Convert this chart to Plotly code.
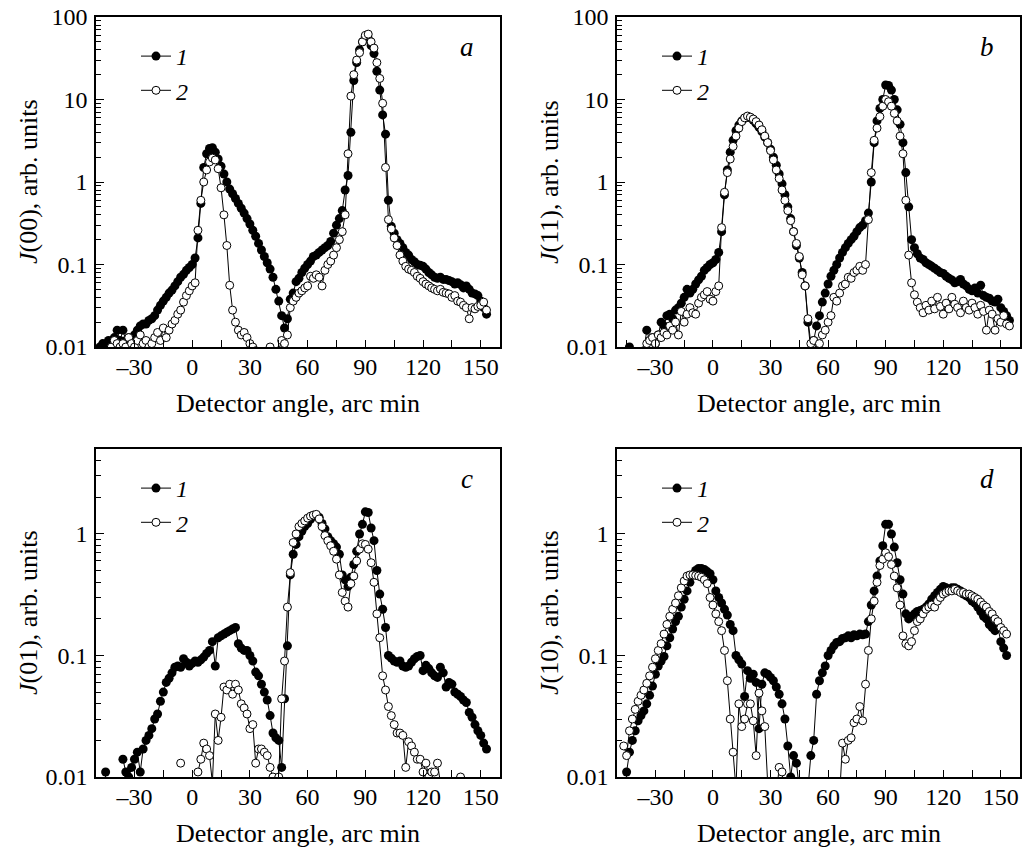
import plotly.graph_objects as go

# detector angle grid, arc min
angle = [-48, -46.5, -45, -43.5, -42, -40.5, -39, -37.5, -36, -34.5,
         -33, -31.5, -30, -28.5, -27, -25.5, -24, -22.5, -21, -19.5,
         -18, -16.5, -15, -13.5, -12, -10.5, -9, -7.5, -6, -4.5,
         -3, -1.5, 0, 1.5, 3, 4.5, 6, 7.5, 9, 10.5,
         12, 13.5, 15, 16.5, 18, 19.5, 21, 22.5, 24, 25.5,
         27, 28.5, 30, 31.5, 33, 34.5, 36, 37.5, 39, 40.5,
         42, 43.5, 45, 46.5, 48, 49.5, 51, 52.5, 54, 55.5,
         57, 58.5, 60, 61.5, 63, 64.5, 66, 67.5, 69, 70.5,
         72, 73.5, 75, 76.5, 78, 79.5, 81, 82.5, 84, 85.5,
         87, 88.5, 90, 91.5, 93, 94.5, 96, 97.5, 99, 100.5,
         102, 103.5, 105, 106.5, 108, 109.5, 111, 112.5, 114, 115.5,
         117, 118.5, 120, 121.5, 123, 124.5, 126, 127.5, 129, 130.5,
         132, 133.5, 135, 136.5, 138, 139.5, 141, 142.5, 144, 145.5,
         147, 148.5, 150, 151.5, 153, 154.5]

# a: J(00)
a1 = [0.010, 0.011, 0.010, 0.012, 0.011, 0.013, 0.016, 0.012, 0.016, 0.012,
      0.013, 0.012, 0.014, 0.016, 0.018, 0.019, 0.019, 0.021, 0.022, 0.024,
      0.028, 0.032, 0.036, 0.040, 0.045, 0.049, 0.055, 0.062, 0.070, 0.076,
      0.085, 0.092, 0.10, 0.12, 0.21, 0.55, 1.5, 2.2, 2.55, 2.6,
      2.3, 1.9, 1.55, 1.25, 1.0, 0.82, 0.72, 0.63, 0.55, 0.48,
      0.42, 0.36, 0.31, 0.26, 0.22, 0.18, 0.15, 0.125, 0.105, 0.088,
      0.07, 0.05, 0.036, 0.024, 0.017, 0.022, 0.038, 0.045, 0.062, 0.068,
      0.08, 0.09, 0.1, 0.11, 0.125, 0.13, 0.14, 0.15, 0.16, 0.17,
      0.19, 0.24, 0.3, 0.36, 0.45, 0.8, 1.2, 4.0, 17, 28,
      40, 50, 58, 55, 45, 36, 22, 13, 6.5, 3.8,
      0.6, 0.29, 0.24, 0.2, 0.18, 0.16, 0.14, 0.13, 0.115, 0.108,
      0.1, 0.098, 0.095, 0.088, 0.08, 0.075, 0.07, 0.068, 0.07, 0.066,
      0.066, 0.064, 0.062, 0.058, 0.06, 0.057, 0.052, 0.055, 0.05, 0.045,
      0.044, 0.042, 0.036, 0.03, 0.025, None]
a2 = [None, None, None, None, 0.010, 0.012, 0.011, 0.010, 0.011, 0.010,
      0.013, 0.011, 0.010, 0.012, 0.014, 0.011, 0.012, 0.010, 0.011, 0.013,
      0.015, 0.012, 0.017, 0.013, 0.016, 0.019, 0.021, 0.025, 0.028, 0.035,
      0.042, 0.048, 0.055, 0.06, 0.26, 0.6, 1.0, 1.4, 1.75, 1.95,
      1.85, 1.45, 0.85, 0.4, 0.17, 0.056, 0.028, 0.02, 0.016, 0.014,
      0.015, 0.013, 0.011, 0.01, 0.009, 0.008, 0.007, 0.007, 0.008, 0.01,
      0.008, 0.007, 0.009, 0.012, 0.011, 0.014, 0.03, 0.036, 0.04, 0.045,
      0.048, 0.052, 0.055, 0.072, 0.068, 0.075, 0.07, 0.055, 0.085, 0.1,
      0.11, 0.13, 0.16, 0.2, 0.25, 0.4, 2.2, 11, 20, 30,
      37, 50, 60, 62, 50, 42, 28, 18, 9, 1.5,
      0.35, 0.27, 0.21, 0.17, 0.13, 0.11, 0.095, 0.088, 0.085, 0.08,
      0.072, 0.068, 0.062, 0.058, 0.055, 0.052, 0.05, 0.048, 0.05, 0.046,
      0.045, 0.044, 0.04, 0.042, 0.036, 0.035, 0.032, 0.03, 0.022, 0.03,
      0.029, 0.031, 0.032, 0.035, 0.028, None]

# b: J(11)
b1 = [None, None, None, 0.010, None, None, None, None, 0.009, 0.016,
      0.012, 0.013, 0.011, 0.014, 0.02, 0.018, 0.024, 0.025, 0.022, 0.028,
      0.03, 0.034, 0.04, 0.05, 0.045, 0.05, 0.058, 0.065, 0.072, 0.085,
      0.092, 0.1, 0.105, 0.115, 0.14, 0.25, 0.7, 1.4, 2.3, 3.2,
      4.2, 4.9, 5.5, 5.9, 6.2, 6.0, 5.6, 5.1, 4.6, 4.1,
      3.5, 3.0, 2.5, 2.0, 1.6, 1.25, 0.95, 0.7, 0.5, 0.36,
      0.25, 0.17, 0.12, 0.08, 0.055, 0.02, 0.009, 0.012, 0.018, 0.024,
      0.035, 0.045, 0.058, 0.072, 0.085, 0.1, 0.12, 0.14, 0.16, 0.18,
      0.2, 0.22, 0.25, 0.28, 0.3, 0.34, 0.42, 1.0, 3.0, 5.5,
      7.8, 10, 15, 14.8, 13, 10, 7.5, 5.0, 3.0, 1.3,
      0.5, 0.2, 0.16, 0.135, 0.12, 0.115, 0.105, 0.1, 0.095, 0.09,
      0.085, 0.08, 0.078, 0.072, 0.068, 0.065, 0.06, 0.062, 0.066, 0.058,
      0.055, 0.05, 0.048, 0.052, 0.045, 0.056, 0.042, 0.04, 0.039, 0.036,
      0.035, 0.038, 0.03, 0.027, 0.024, 0.021]
b2 = [None, None, None, None, None, None, None, None, None, 0.011,
      0.012, 0.013, 0.011, 0.014, 0.013, 0.015, 0.014, 0.018, 0.016, 0.02,
      0.014, 0.027, 0.02, 0.025, 0.03, 0.026, 0.025, 0.034, 0.04, 0.043,
      0.047, 0.038, 0.036, 0.047, 0.055, 0.28, 0.75, 1.3, 1.9, 2.7,
      3.6, 4.5, 5.4, 6.0, 6.3, 6.1, 5.8, 5.4, 4.9, 4.3,
      3.6, 3.0, 2.4, 1.85, 1.4, 1.1, 0.8, 0.6, 0.45, 0.34,
      0.25, 0.18, 0.125, 0.075, 0.055, 0.022, 0.011, 0.012, 0.009, 0.011,
      0.014, 0.016, 0.02, 0.024, 0.04, 0.036, 0.045, 0.055, 0.058, 0.07,
      0.068, 0.08, 0.085, 0.095, 0.085, 0.1, 0.35, 1.3, 3.2, 4.5,
      6.2, 8.3, 10, 9.4, 8.3, 6.8, 5.5, 3.6, 2.2, 0.6,
      0.13, 0.06, 0.043, 0.035, 0.03, 0.026, 0.032, 0.028, 0.036, 0.029,
      0.04, 0.031, 0.025, 0.034, 0.029, 0.04, 0.033, 0.03, 0.026, 0.036,
      0.03, 0.028, 0.034, 0.03, 0.025, 0.032, 0.027, 0.016, 0.028, 0.025,
      0.016, 0.022, 0.02, 0.024, 0.019, 0.018]

# c: J(01)
c1 = [None, None, 0.011, None, None, None, None, None, 0.014, 0.011,
      0.010, 0.012, 0.014, 0.016, 0.011, 0.017, 0.02, 0.022, 0.025, 0.03,
      0.033, 0.042, 0.05, 0.06, 0.065, 0.072, 0.08, 0.082, 0.08, 0.094,
      0.088, 0.082, 0.086, 0.09, 0.088, 0.092, 0.097, 0.104, 0.11, 0.13,
      0.082, 0.14, 0.145, 0.15, 0.155, 0.16, 0.165, 0.17, 0.125, 0.115,
      0.11, 0.11, 0.1, 0.09, 0.073, 0.068, 0.058, 0.05, 0.043, 0.032,
      0.023, 0.021, 0.02, 0.012, 0.044, 0.12, 0.46, 0.68, 0.82, 0.95,
      1.05, 1.15, 1.22, 1.32, 1.4, 1.42, 1.37, 1.22, 1.1, 0.95,
      0.88, 0.83, 0.78, 0.68, 0.46, 0.42, 0.37, 0.44, 0.56, 0.72,
      1.0, 1.2, 1.52, 1.5, 1.12, 0.88, 0.5, 0.32, 0.24, 0.17,
      0.1, 0.095, 0.09, 0.088, 0.09, 0.082, 0.08, 0.082, 0.088, 0.094,
      0.098, 0.1, 0.075, 0.083, 0.078, 0.072, 0.068, 0.066, 0.08, 0.072,
      0.055, 0.06, 0.058, 0.05, 0.048, 0.046, 0.043, 0.041, 0.034, 0.031,
      0.027, 0.024, 0.022, 0.019, 0.017, None]
c2 = [None, None, None, None, None, None, None, None, None, None,
      None, None, None, None, None, None, None, None, None, None,
      None, None, None, None, None, None, None, None, 0.013, None,
      None, None, None, None, 0.011, 0.014, 0.019, 0.017, 0.015, 0.009,
      0.033, 0.02, 0.031, 0.055, 0.052, 0.058, 0.048, 0.058, 0.052, 0.04,
      0.037, 0.033, 0.025, 0.027, 0.013, 0.017, 0.017, 0.016, 0.015, 0.012,
      0.01, 0.009, 0.01, 0.044, 0.09, 0.25, 0.48, 0.85, 1.0, 1.15,
      1.22, 1.28, 1.35, 1.4, 1.43, 1.45, 1.33, 1.15, 0.97, 0.88,
      0.8, 0.72, 0.62, 0.46, 0.33, 0.28, 0.25, 0.39, 0.45, 0.6,
      0.75, 0.83, 0.82, 0.75, 0.58, 0.4, 0.22, 0.14, 0.068, 0.052,
      0.038, 0.032, 0.027, 0.023, 0.023, 0.022, 0.012, 0.0195, 0.018, 0.016,
      0.014, 0.014, 0.011, 0.013, 0.01, 0.011, 0.011, 0.013, 0.009, None,
      None, None, None, None, None, 0.01, None, None, None, None,
      None, None, None, None, None, None]

# d: J(10)
d1 = [None, None, 0.011, 0.016, 0.02, 0.024, 0.029, 0.032, 0.035, 0.04,
      0.047, 0.056, 0.07, 0.082, 0.09, 0.098, 0.12, 0.14, 0.165, 0.19,
      0.21, 0.25, 0.29, 0.34, 0.4, 0.46, 0.5, 0.52, 0.52, 0.51,
      0.49, 0.47, 0.42, 0.34, 0.3, 0.27, 0.24, 0.215, 0.18, 0.16,
      0.1, 0.092, 0.085, 0.046, 0.075, 0.065, 0.07, 0.06, 0.025, 0.058,
      0.072, 0.07, 0.066, 0.062, 0.055, 0.048, 0.04, 0.03, 0.018, 0.01,
      0.015, 0.013, 0.008, 0.007, 0.007, 0.008, 0.015, 0.02, 0.048, 0.062,
      0.072, 0.082, 0.1, 0.11, 0.12, 0.128, 0.13, 0.138, 0.14, 0.145,
      0.14, 0.148, 0.145, 0.15, 0.148, 0.15, 0.19, 0.26, 0.34, 0.45,
      0.6, 0.8, 1.2, 1.2, 1.0, 0.78, 0.58, 0.42, 0.32, 0.22,
      0.2, 0.21, 0.22, 0.23, 0.235, 0.24, 0.25, 0.265, 0.29, 0.31,
      0.33, 0.35, 0.37, 0.36, 0.35, 0.36, 0.36, 0.35, 0.34, 0.32,
      0.31, 0.3, 0.28, 0.27, 0.25, 0.23, 0.21, 0.2, 0.18, 0.17,
      0.16, 0.17, 0.13, 0.115, 0.1, None]
d2 = [None, 0.018, 0.015, 0.024, 0.03, 0.036, 0.042, 0.047, 0.052, 0.059,
      0.068, 0.08, 0.094, 0.11, 0.125, 0.15, 0.18, 0.21, 0.24, 0.27,
      0.31, 0.36, 0.41, 0.45, 0.46, 0.46, 0.455, 0.45, 0.44, 0.42,
      0.39, 0.3, 0.26, 0.22, 0.19, 0.16, 0.11, 0.062, 0.03, 0.016,
      0.008, 0.04, 0.026, 0.03, 0.04, 0.04, 0.029, 0.015, 0.049, 0.035,
      0.026, 0.009, 0.006, 0.006, 0.007, 0.012, 0.011, 0.007, None, None,
      None, None, None, None, None, None, None, None, None, None,
      None, None, None, None, None, None, 0.007, 0.019, 0.014, 0.02,
      0.021, 0.028, 0.03, 0.038, 0.029, 0.058, 0.11, 0.2, 0.28, 0.4,
      0.55, 0.62, 0.7, 0.65, 0.56, 0.45, 0.36, 0.26, 0.145, 0.125,
      0.12, 0.13, 0.16, 0.19, 0.2, 0.22, 0.24, 0.25, 0.26, 0.25,
      0.28, 0.3, 0.32, 0.33, 0.34, 0.34, 0.35, 0.34, 0.33, 0.33,
      0.32, 0.32, 0.31, 0.3, 0.29, 0.275, 0.26, 0.25, 0.23, 0.22,
      0.2, 0.19, 0.17, 0.16, 0.15, None]

x_ticks = [-30, 0, 30, 60, 90, 120, 150]
x_labels = ["\u201330", "0", "30", "60", "90", "120", "150"]
y_ticks_top = [0.01, 0.1, 1, 10, 100]
y_labels_top = ["0.01", "0.1", "1", "10", "100"]
y_ticks_bottom = [0.01, 0.1, 1]
y_labels_bottom = ["0.01", "0.1", "1"]

W, H = 1025, 854
FONT = "Liberation Serif"

# panel boxes in pixels: left, right, top, bottom
panels = [
    dict(letter="a", ylab="(00)", box=(96, 500, 17, 347), yr=[-2, 2], s=(a1, a2)),
    dict(letter="b", ylab="(11)", box=(617, 1020, 17, 347), yr=[-2, 2], s=(b1, b2)),
    dict(letter="c", ylab="(01)", box=(96, 500, 449, 777), yr=[-2, 0.699], s=(c1, c2)),
    dict(letter="d", ylab="(10)", box=(617, 1020, 449, 777), yr=[-2, 0.699], s=(d1, d2)),
]

minor_y = [m * 10 ** e for e in range(-2, 2) for m in range(2, 10)]

fig = go.Figure()
annotations = []
layout = {}

for i, p in enumerate(panels):
    n = "" if i == 0 else str(i + 1)
    leg = "legend" + n
    l, r, t, b = p["box"]
    s1, s2 = p["s"]
    fig.add_trace(go.Scatter(
        x=angle, y=s1, mode="lines+markers", name="<i>1</i>",
        xaxis="x" + n, yaxis="y" + n, legend=leg,
        line=dict(color="black", width=1),
        marker=dict(symbol="circle", size=9, color="black"),
    ))
    fig.add_trace(go.Scatter(
        x=angle, y=s2, mode="lines+markers", name="<i>2</i>",
        xaxis="x" + n, yaxis="y" + n, legend=leg,
        line=dict(color="black", width=1),
        marker=dict(symbol="circle", size=8, color="white",
                    line=dict(color="black", width=1)),
    ))

    top = p["yr"][1] > 1
    layout["xaxis" + n] = dict(
        domain=[l / W, r / W], anchor="y" + n, range=[-50, 160],
        automargin=False,
        showline=True, linecolor="black", linewidth=1.5, mirror=True,
        ticks="inside", ticklen=7, tickwidth=1, tickcolor="black",
        tickmode="array", tickvals=x_ticks, ticktext=x_labels,
        minor=dict(ticks="inside", ticklen=7, tickwidth=1, tickcolor="black",
                   tickmode="array", tickvals=[-45, -15, 15, 45, 75, 105, 135]),
        showgrid=False, zeroline=False, ticklabelstandoff=-3,
        tickfont=dict(family=FONT, size=24, color="black"),
    )
    layout["yaxis" + n] = dict(
        domain=[1 - b / H, 1 - t / H], anchor="x" + n, type="log", range=p["yr"],
        automargin=False,
        showline=True, linecolor="black", linewidth=1.5, mirror=True,
        ticks="inside", ticklen=8, tickwidth=1, tickcolor="black",
        tickmode="array",
        tickvals=y_ticks_top if top else y_ticks_bottom,
        ticktext=y_labels_top if top else y_labels_bottom,
        minor=dict(ticks="inside", ticklen=5, tickwidth=1, tickcolor="black",
                   tickmode="array", tickvals=minor_y),
        showgrid=False, zeroline=False, ticklabelstandoff=2,
        tickfont=dict(family=FONT, size=24, color="black"),
    )
    layout[leg] = dict(
        x=(l + 40) / W, y=1 - (t + 17) / H, xanchor="left", yanchor="top",
        bgcolor="rgba(0,0,0,0)", borderwidth=0,
        font=dict(family=FONT, size=24, color="black"),
        tracegroupgap=0,
    )
    annotations.append(dict(
        text="<i>" + p["letter"] + "</i>", xref="paper", yref="paper",
        x=(r - 33) / W, y=1 - (t + 30) / H, xanchor="center", yanchor="middle",
        showarrow=False, font=dict(family=FONT, size=27, color="black"),
    ))
    annotations.append(dict(
        text="Detector angle, arc min", xref="paper", yref="paper",
        x=(l + r) / 2 / W, y=1 - (b + 56) / H, xanchor="center", yanchor="middle",
        showarrow=False, font=dict(family=FONT, size=26, color="black"),
    ))
    annotations.append(dict(
        text="<i>J</i>" + p["ylab"] + ", arb. units", xref="paper", yref="paper",
        x=(l - 68) / W, y=1 - (t + b) / 2 / H, xanchor="center", yanchor="middle",
        showarrow=False, textangle=-90,
        font=dict(family=FONT, size=26, color="black"),
    ))

fig.update_layout(
    width=W, height=H, autosize=False,
    margin=dict(l=0, r=0, t=0, b=0, pad=0),
    paper_bgcolor="white", plot_bgcolor="white",
    font=dict(family=FONT, size=24, color="black"),
    annotations=annotations,
    **layout,
)

fig.write_html(
    "out.html",
    config={"displayModeBar": False},
    post_script="document.body.style.margin = '0px';",
)
